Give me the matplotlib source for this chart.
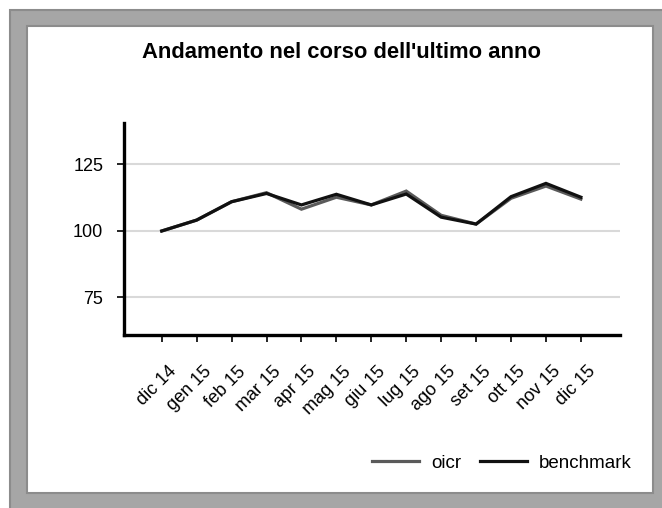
import matplotlib
matplotlib.use("Agg")
import matplotlib.pyplot as plt
import matplotlib.transforms as mtransforms
from matplotlib.patches import Rectangle

plt.rcParams['font.family'] = ['Liberation Sans', 'DejaVu Sans']

months = ["dic 14", "gen 15", "feb 15", "mar 15", "apr 15", "mag 15", "giu 15",
          "lug 15", "ago 15", "set 15", "ott 15", "nov 15", "dic 15"]
oicr = [100.0, 104.1, 111.0, 114.4, 108.2, 112.7, 109.8, 115.0, 105.9, 102.6, 112.3, 116.9, 112.0]
benchmark = [100.0, 104.1, 111.0, 114.1, 109.8, 113.8, 109.8, 113.9, 105.2, 102.6, 112.9, 117.9, 112.7]
yticks = [75, 100, 125]

W, H = 662, 508
fig = plt.figure(figsize=(W / 100, H / 100), dpi=100)
fig.patch.set_facecolor('white')

# grey frame with white panel (pixel coords -> figure fractions)
def px_rect(x0, y0, x1, y1, **kw):
    return Rectangle((x0 / W, 1 - y1 / H), (x1 - x0) / W, (y1 - y0) / H,
                     transform=fig.transFigure, zorder=-10, **kw)

fig.patches.append(px_rect(10, 10, 668, 514, facecolor='#a6a6a6', edgecolor='#8c8c8c', linewidth=1.5))
fig.patches.append(px_rect(27, 26, 653, 493, facecolor='white', edgecolor='#8c8c8c', linewidth=1.5))

left, right, top, bottom = 124, 620, 123, 335
ax = fig.add_axes([left / W, 1 - bottom / H, (right - left) / W, (bottom - top) / H])
ax.set_facecolor('none')

x = range(len(months))
ax.plot(x, oicr, color='#5a5a5a', linewidth=2.3, label='oicr', solid_joinstyle='miter')
ax.plot(x, benchmark, color='#111111', linewidth=2.3, label='benchmark', solid_joinstyle='miter')

ax.set_xlim(-1.08, 13.12)
ax.set_ylim(60.9, 140.6)
ax.set_yticks(yticks)
ax.set_yticklabels([str(v) for v in yticks], fontsize=13)
ax.set_xticks(list(x))
ax.set_xticklabels(months, rotation=45, ha='right', rotation_mode='anchor', fontsize=13)
ax.grid(axis='y', color='#d9d9d9', linewidth=1.5)
ax.set_axisbelow(True)

for s in ['top', 'right']:
    ax.spines[s].set_visible(False)
for s in ['left', 'bottom']:
    ax.spines[s].set_linewidth(2.4)
    ax.spines[s].set_color('black')
ax.tick_params(axis='both', direction='out', length=5, width=1.2, color='black')
ax.tick_params(axis='y', pad=10)
ax.tick_params(axis='x', pad=8)

# nudge rotated labels like the original (a bit right and lower)
offset = mtransforms.ScaledTranslation(6 / 100, -10 / 100, fig.dpi_scale_trans)
for lbl in ax.get_xticklabels():
    lbl.set_transform(lbl.get_transform() + offset)

fig.text(342 / W, 1 - 53 / H, "Andamento nel corso dell'ultimo anno",
         ha='center', va='center', fontsize=15.8, fontweight='bold')

fig.legend(loc='center', bbox_to_anchor=(502 / W, 1 - 463 / H), ncol=2, frameon=False,
           fontsize=13.5, handlelength=2.5, handletextpad=0.65, columnspacing=1.0)

fig.savefig('out.png', dpi=100, facecolor='white')
